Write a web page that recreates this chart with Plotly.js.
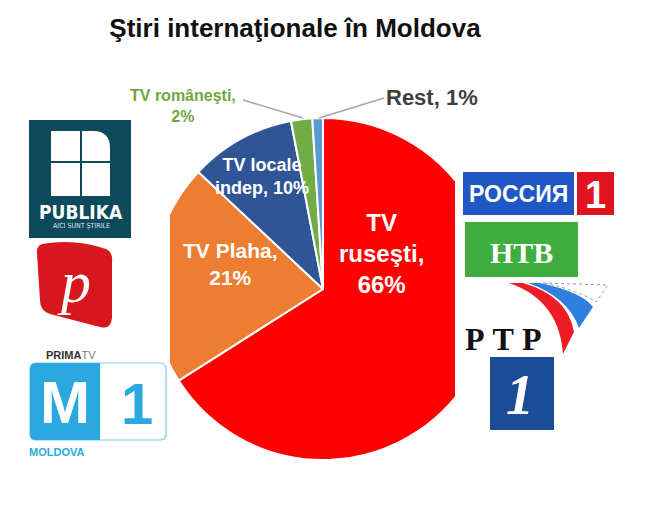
<!DOCTYPE html>
<html>
<head>
<meta charset="utf-8">
<script src="https://cdn.plot.ly/plotly-3.0.1.min.js"></script>
<style>html,body{margin:0;padding:0;background:#fff;}#chart{width:645px;height:506px;}</style>
</head>
<body>
<div id="chart"></div>
<script>
// ---- data ----
const categories = ['TV ruseşti', 'TV Plaha', 'TV locale indep', 'TV româneşti', 'Rest'];
const shares = [66, 21, 10, 2, 1];
const labelNames = ['TV<br>ruseşti', 'TV Plaha', 'TV locale<br>indep', 'TV româneşti', 'Rest'];
const labelSeps = ['<br>', '<br>', ' ', '<br>', ' '];
const sliceColors = ['#FF0000', '#ED7D31', '#2F5597', '#70AD47', '#5B9BD5'];
const titleText = 'Ştiri internaţionale în Moldova';

// ---- layout helpers (pixel -> paper) ----
const W = 645, H = 506;
const fx = x => x / W;
const fy = y => 1 - y / H;
const FONT = 'Liberation Sans, Arial, sans-serif';

// label placement/styling (layout only)
const labelPos = [[381, 253], [230, 264], [262, 176], [183, 106], [432, 97]];
const labelSize = [24, 21, 18, 16, 22];
const labelColor = ['#ffffff', '#ffffff', '#ffffff', '#6FA540', '#404040'];

function rect(x0, y0, x1, y1, fill, line) {
  return {type: 'rect', xref: 'paper', yref: 'paper', layer: 'above',
    x0: fx(x0), x1: fx(x1), y0: fy(y1), y1: fy(y0),
    fillcolor: fill, line: line || {width: 0}};
}
function pth(s, fill, line) {
  const d = s.replace(/(-?\d+\.?\d*)\s+(-?\d+\.?\d*)/g,
    (m, a, b) => fx(+a).toFixed(5) + ',' + fy(+b).toFixed(5));
  return {type: 'path', xref: 'paper', yref: 'paper', layer: 'above', path: d,
    fillcolor: fill, line: line || {width: 0}};
}
function seg(x0, y0, x1, y1, color, w, dash) {
  return {type: 'line', xref: 'paper', yref: 'paper', layer: 'above',
    x0: fx(x0), y0: fy(y0), x1: fx(x1), y1: fy(y1),
    line: {color: color, width: w || 1, dash: dash || 'solid'}};
}
function txt(text, x, y, size, color, family, extra) {
  return Object.assign({xref: 'paper', yref: 'paper', x: fx(x), y: fy(y),
    xanchor: 'center', yanchor: 'middle', showarrow: false, text: text,
    font: {size: size, color: color, family: family || FONT}}, extra || {});
}

// ---- pie ----
const trace = {
  type: 'pie',
  labels: categories,
  values: shares,
  sort: false,
  direction: 'clockwise',
  rotation: 0,
  textinfo: 'none',
  hoverinfo: 'none',
  showlegend: false,
  marker: {colors: sliceColors, line: {color: '#ffffff', width: 2}},
  domain: {x: [fx(152), fx(494)], y: [fy(460), fy(118)]}
};

// ---- annotations ----
const annotations = categories.map((c, i) => txt(
  '<b>' + labelNames[i] + ',' + labelSeps[i] + shares[i] + '%</b>',
  labelPos[i][0], labelPos[i][1], labelSize[i], labelColor[i]));

// logo texts
annotations.push(
  txt('<b>PUBLIKA</b>', 81, 212, 19, '#ffffff', 'Liberation Sans Narrow, DejaVu Sans Condensed, sans-serif'),
  txt('AICI SUNT ŞTIRILE', 81, 226, 7, '#dfe9ec', 'Liberation Sans Narrow, DejaVu Sans Condensed, sans-serif'),
  txt('<i>p</i>', 74, 282, 60, '#ffffff', 'Liberation Serif, serif'),
  txt('<b>PRIMA</b><span style="color:#777">TV</span>', 71, 355, 11, '#333333'),
  txt('<b>M</b>', 65, 402, 60, '#ffffff'),
  txt('<b>1</b>', 137, 403, 58, '#2AA9E0'),
  txt('<b>MOLDOVA</b>', 56, 452, 11, '#2AA9E0'),
  txt('<b>РОССИЯ</b>', 518, 194, 23, '#ffffff'),
  txt('<b>1</b>', 595, 195, 38, '#ffffff'),
  txt('<b>НТВ</b>', 521, 252, 30, '#ffffff', 'Liberation Serif, serif'),
  txt('<b>Р Т Р</b>', 503, 339, 32, '#111111', 'Liberation Serif, serif'),
  txt('<b><i>1</i></b>', 520, 395, 56, '#ffffff', 'Liberation Serif, serif')
);

// ---- shapes ----
const shapes = [
  // side clipping of the pie
  rect(132, 140, 170, 430, '#ffffff'),
  rect(455, 140, 520, 430, '#ffffff'),
  // leader lines
  seg(243, 100, 303, 118, '#A6A6A6', 1.5),
  seg(384, 98, 319, 118, '#A6A6A6', 1.5),
  // PUBLIKA
  rect(29, 120, 131, 238, '#0D4A5A'),
  rect(51, 131, 80, 161, '#ffffff'),
  pth('M 82 131 L 93 131 Q 110 131 110 148 L 110 161 L 82 161 Z', '#ffffff'),
  rect(51, 163, 80, 196, '#ffffff'),
  rect(82, 163, 110, 196, '#ffffff'),
  // Prima TV
  pth('M 42 244 Q 75 238 106 249 Q 113 252 112 262 L 112 318 Q 111 330 100 327 L 50 314 Q 40 311 40 300 L 37 254 Q 36 246 42 244 Z', '#D8161E'),
  // Moldova 1
  pth('M 36 363 L 160 363 Q 166 363 166 369 L 166 434 Q 166 440 160 440 L 36 440 Q 30 440 30 434 L 30 369 Q 30 363 36 363 Z', 'rgba(0,0,0,0)', {color: '#7CCBEA', width: 1.2}),
  pth('M 36 363 L 100 363 L 100 440 L 36 440 Q 30 440 30 434 L 30 369 Q 30 363 36 363 Z', '#2AA9E0'),
  // Rossiya 1
  rect(463, 172, 574, 215, '#1F58C4'),
  rect(577, 172, 614, 215, '#E0141E'),
  // NTV
  rect(465, 222, 578, 277, '#3FAE3E'),
  // RTR swoosh
  pth('M 509 283 L 523 283 Q 568 296 574 332 L 563 354 Q 559 300 509 283 Z', '#EE1C24'),
  pth('M 528 283 L 540 283 Q 582 292 593 307 L 579 328 Q 568 297 528 283 Z', '#2E7FE0'),
  pth('M 543 283 L 608 285 L 596 302 Q 578 290 543 283 Z', '#ffffff', {color: '#9a9a9a', width: 1, dash: 'dot'}),
  // Perviy kanal
  rect(490, 357, 554, 430, '#1B4C98')
];

const layout = {
  width: W, height: H,
  margin: {l: 0, r: 0, t: 0, b: 0},
  paper_bgcolor: '#ffffff',
  plot_bgcolor: '#ffffff',
  showlegend: false,
  title: {text: '<b>' + titleText + '</b>', x: fx(295), xanchor: 'center',
    y: fy(28), yanchor: 'middle', font: {size: 26, color: '#111111', family: FONT}},
  shapes: shapes,
  annotations: annotations
};

Plotly.newPlot('chart', [trace], layout, {staticPlot: true, displayModeBar: false});
</script>
</body>
</html>
